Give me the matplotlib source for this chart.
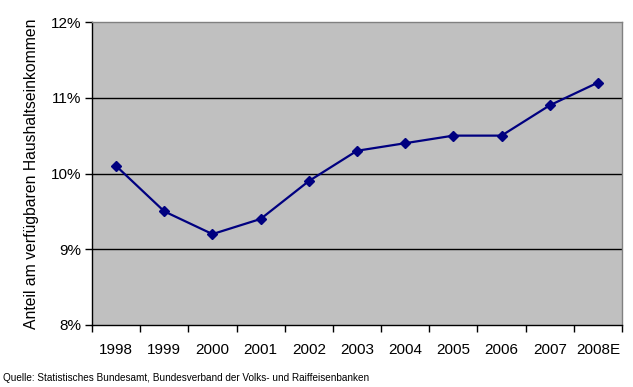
import matplotlib
matplotlib.use("Agg")
import matplotlib.pyplot as plt
from matplotlib.ticker import FixedLocator, NullFormatter

years = ["1998", "1999", "2000", "2001", "2002", "2003", "2004", "2005", "2006", "2007", "2008E"]
values = [10.1, 9.5, 9.2, 9.4, 9.9, 10.3, 10.4, 10.5, 10.5, 10.9, 11.2]
yticks = [8, 9, 10, 11, 12]
ytick_labels = ["8%", "9%", "10%", "11%", "12%"]
ylabel = "Anteil am verfügbaren Haushaltseinkommen"
source = "Quelle: Statistisches Bundesamt, Bundesverband der Volks- und Raiffeisenbanken"

plt.rcParams['font.family'] = ['Liberation Sans', 'DejaVu Sans']

fig = plt.figure(figsize=(6.33, 3.87), dpi=100)
ax = fig.add_axes([92/633, 1-325/387, (622-92)/633, (325-22)/387])
ax.set_facecolor("#C0C0C0")

x = list(range(len(years)))
ax.plot(x, values, color="#000080", lw=1.6, marker="D", ms=4.8, zorder=3)

ax.set_xlim(-0.5, len(years) - 0.5)
ax.set_ylim(8, 12)
ax.set_yticks(yticks)
ax.set_yticklabels(ytick_labels, fontsize=11)
for yv in yticks[1:-1]:
    ax.axhline(yv, color="black", lw=1, zorder=1)

ax.set_xticks(x)
ax.set_xticklabels(years, fontsize=11)
ax.tick_params(axis="x", which="major", length=0, pad=13)
ax.xaxis.set_minor_locator(FixedLocator([i - 0.5 for i in range(len(years) + 1)]))
ax.xaxis.set_minor_formatter(NullFormatter())
ax.tick_params(axis="x", which="minor", length=5, width=1, color="black", direction="out")
ax.tick_params(axis="y", length=5, width=1, color="black", direction="out", pad=3)

for s in ["left", "bottom"]:
    ax.spines[s].set_color("black")
    ax.spines[s].set_linewidth(1)
for s in ["top", "right"]:
    ax.spines[s].set_color("#808080")
    ax.spines[s].set_linewidth(1)

ax.set_ylabel(ylabel, fontsize=11.3, labelpad=8)
fig.text(3/633, 1-378/387, source, fontsize=7.2, va="center", ha="left")

fig.savefig("out.png", dpi=100)
